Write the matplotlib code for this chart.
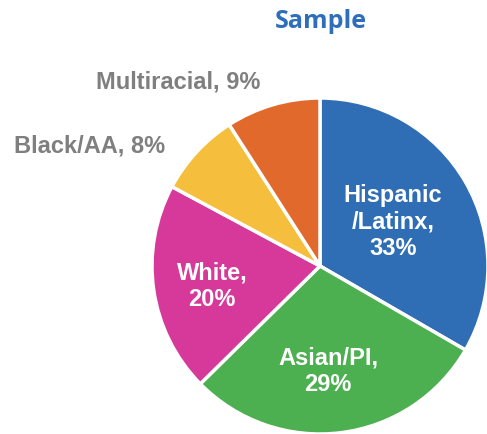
import matplotlib.pyplot as plt

# slices, clockwise from 12 o'clock
groups = ['Hispanic\n/Latinx,\n33%', 'Asian/PI,\n29%', 'White,\n20%', 'Black/AA, 8%', 'Multiracial, 9%']
shares = [33, 29, 20, 8, 9]
colors = ['#2F6DB5', '#4CAF50', '#D6399A', '#F5BE3C', '#E2692C']

W, H = 487, 435
fig = plt.figure(figsize=(W / 100, H / 100), dpi=100)
ax = fig.add_axes([0, 0, 1, 1])

ax.pie(shares, colors=colors, startangle=90, counterclock=False,
       center=(320, H - 267), radius=168,
       wedgeprops=dict(edgecolor='white', linewidth=2.5))

ax.set_xlim(0, W)
ax.set_ylim(0, H)
ax.set_aspect('auto')
ax.axis('off')

# labels inside the big slices
inside = {0: (393, 222), 1: (328, 371), 2: (212, 286)}
for i, (px, py) in inside.items():
    ax.text(px, H - py, groups[i], color='white', fontsize=17, fontweight='bold',
            family='Liberation Sans', ha='center', va='center', linespacing=1.22)

# labels outside the small slices
ax.text(178, H - 82, groups[4], color='#7F7F7F', fontsize=17, fontweight='bold',
        family='Liberation Sans', ha='center', va='center')
ax.text(90, H - 146, groups[3], color='#7F7F7F', fontsize=17, fontweight='bold',
        family='Liberation Sans', ha='center', va='center')

ax.text(321, H - 22, 'Sample', color='#2F6EBA', fontsize=18, fontweight='bold',
        family='Open Sans', ha='center', va='center')

fig.savefig('out.png', dpi=100)
